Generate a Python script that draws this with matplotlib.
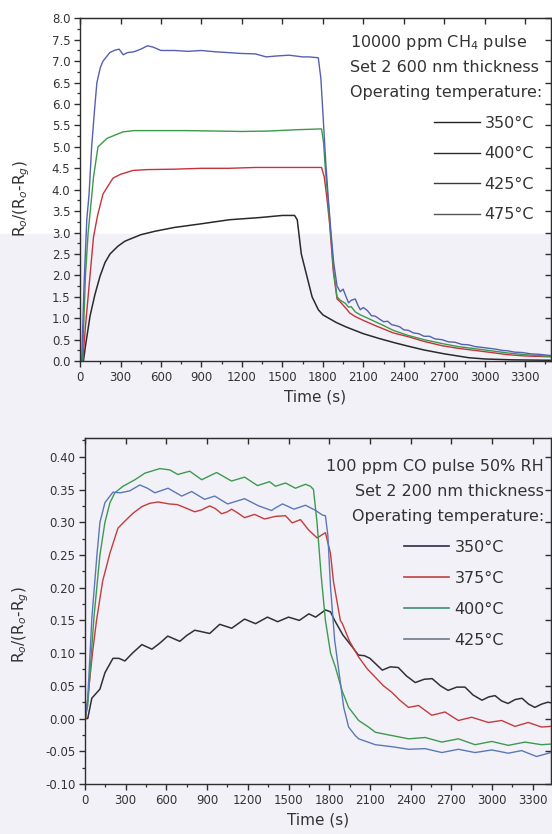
import matplotlib
matplotlib.use('Agg')
from matplotlib import pyplot as plt
from matplotlib.lines import Line2D
from matplotlib.patches import Rectangle
from matplotlib.ticker import MultipleLocator, FormatStrFormatter

plt.rcParams['font.family'] = ['DejaVu Sans']
plt.rcParams['mathtext.fontset'] = 'dejavusans'

# ---- 10000 ppm CH4, 600 nm film ----
ch4_t_350 = [25, 40, 74, 110, 148, 185, 222, 280, 333, 450, 554, 700, 887, 1108, 1330, 1500, 1590,
             1610, 1640, 1680, 1720, 1766, 1800, 1900, 1970, 2100, 2215, 2330, 2430, 2550, 2700,
             2880, 3000, 3200, 3490]
ch4_r_350 = [0.0, 0.35, 1.05, 1.55, 1.98, 2.3, 2.5, 2.68, 2.8, 2.95, 3.03, 3.12, 3.2, 3.3, 3.35, 3.4, 3.4,
             3.3, 2.5, 2.0, 1.5, 1.2, 1.08, 0.9, 0.8, 0.64, 0.53, 0.43, 0.35, 0.26, 0.17,
             0.08, 0.05, 0.03, 0.02]

ch4_t_400 = [20, 40, 74, 100, 130, 170, 210, 244, 300, 392, 500, 700, 900, 1100, 1300, 1500, 1700, 1790,
             1810, 1830, 1850, 1877, 1905, 1929, 1966, 2000, 2040, 2100, 2188, 2250, 2320, 2432, 2550,
             2683, 2800, 2927, 3050, 3171, 3300, 3488]
ch4_r_400 = [0.0, 0.8, 2.0, 2.9, 3.4, 3.9, 4.1, 4.27, 4.36, 4.45, 4.47, 4.48, 4.5, 4.5, 4.52, 4.52, 4.52, 4.52,
             4.3, 3.8, 3.2, 2.1, 1.45, 1.38, 1.25, 1.12, 1.04, 0.95, 0.83, 0.75, 0.66, 0.57, 0.46,
             0.36, 0.3, 0.25, 0.2, 0.15, 0.12, 0.1]

ch4_t_425 = [18, 40, 60, 85, 100, 133, 200, 318, 400, 600, 800, 1000, 1200, 1400, 1600, 1790,
             1805, 1820, 1840, 1860, 1880, 1905, 1929, 1966, 1990, 2010, 2040, 2077, 2120, 2188, 2250,
             2320, 2432, 2550, 2683, 2800, 2927, 3050, 3171, 3300, 3488]
ch4_r_425 = [0.0, 2.0, 3.0, 3.8, 4.3, 5.0, 5.2, 5.35, 5.38, 5.38, 5.38, 5.37, 5.36, 5.37, 5.4, 5.42,
             5.1, 4.4, 3.7, 2.9, 2.1, 1.5, 1.42, 1.35, 1.26, 1.27, 1.15, 1.08, 1.02, 0.92, 0.83,
             0.72, 0.6, 0.5, 0.41, 0.34, 0.29, 0.24, 0.19, 0.15, 0.11]

ch4_t_475 = [12, 30, 50, 67, 86, 111, 125, 150, 170, 220, 260, 290, 320, 350, 400, 450, 500, 540, 600, 700,
             800, 900, 1000, 1100, 1200, 1300, 1380, 1450, 1550, 1650, 1700, 1766,
             1785, 1800, 1820, 1840, 1860, 1880, 1905, 1929, 1950, 1966, 1990, 2010, 2040, 2060, 2077,
             2100, 2130, 2160, 2188, 2220, 2250, 2280, 2310, 2340, 2370, 2400, 2432, 2470, 2510, 2550,
             2590, 2630, 2683, 2730, 2780, 2830, 2880, 2927, 2980, 3030, 3080, 3130, 3171, 3220, 3280,
             3340, 3400, 3488]
ch4_r_475 = [0.0, 1.8, 3.3, 3.9, 5.0, 6.0, 6.5, 6.85, 7.0, 7.2, 7.26, 7.28, 7.15, 7.2, 7.22, 7.28, 7.36, 7.33, 7.25, 7.25,
             7.23, 7.25, 7.22, 7.2, 7.18, 7.17, 7.1, 7.12, 7.14, 7.1, 7.1, 7.08,
             6.6, 5.8, 4.7, 3.8, 3.0, 2.3, 1.75, 1.62, 1.68, 1.55, 1.36, 1.42, 1.45, 1.3, 1.2,
             1.25, 1.18, 1.06, 1.05, 0.98, 0.92, 0.93, 0.85, 0.83, 0.8, 0.73, 0.72, 0.66, 0.64, 0.58,
             0.58, 0.52, 0.5, 0.45, 0.44, 0.39, 0.38, 0.34, 0.32, 0.3, 0.28, 0.25, 0.24, 0.21, 0.2,
             0.17, 0.16, 0.13]

# ---- 100 ppm CO, 50% RH, 200 nm film ----
co_t_350 = [0, 20, 50, 110, 147, 206, 250, 294, 350, 419, 493, 550, 610, 699, 750, 809, 919, 993, 1081,
            1176, 1257, 1345, 1420, 1500, 1580, 1650, 1700, 1772, 1810, 1840, 1900, 1968, 2015, 2060,
            2100, 2191, 2250, 2309, 2370, 2434, 2500, 2559, 2620, 2676, 2740, 2801, 2860, 2926, 2975,
            3022, 3070, 3118, 3170, 3221, 3270, 3316, 3365, 3412, 3434]
co_r_350 = [0.0, 0.0, 0.031, 0.045, 0.07, 0.092, 0.092, 0.088, 0.1, 0.113, 0.106, 0.115, 0.126, 0.118, 0.127,
            0.135, 0.13, 0.144, 0.138, 0.152, 0.145, 0.155, 0.148, 0.155, 0.15, 0.16, 0.155, 0.166, 0.163,
            0.15, 0.128, 0.11, 0.097, 0.096, 0.092, 0.074, 0.079, 0.078, 0.065, 0.055, 0.06, 0.061, 0.05,
            0.043, 0.048, 0.048, 0.036, 0.028, 0.033, 0.035, 0.027, 0.023, 0.029, 0.031, 0.022, 0.017,
            0.022, 0.025, 0.024]

co_t_375 = [5, 30, 55, 85, 130, 184, 243, 300, 355, 420, 478, 540, 620, 680, 740, 809, 860, 919, 960, 1007,
            1050, 1080, 1120, 1176, 1250, 1323, 1404, 1478, 1527, 1588, 1649, 1711, 1748, 1772, 1809,
            1831, 1882, 1897, 1950, 2017, 2080, 2140, 2200, 2262, 2320, 2385, 2458, 2556, 2654, 2752,
            2850, 2973, 3071, 3169, 3267, 3365, 3434]
co_r_375 = [0.0, 0.05, 0.1, 0.15, 0.21, 0.253, 0.291, 0.303, 0.314, 0.324, 0.329, 0.331, 0.328, 0.327, 0.322,
            0.316, 0.319, 0.325, 0.321, 0.313, 0.316, 0.32, 0.315, 0.307, 0.312, 0.305, 0.309, 0.31, 0.299,
            0.304, 0.288, 0.276, 0.281, 0.284, 0.253, 0.21, 0.15, 0.145, 0.118, 0.094, 0.076, 0.063,
            0.05, 0.04, 0.028, 0.017, 0.02, 0.005, 0.01, -0.003, 0.002, -0.006, -0.003, -0.012, -0.006,
            -0.013, -0.012]

co_t_400 = [0, 20, 66, 110, 147, 184, 220, 280, 368, 441, 551, 625, 684, 772, 860, 970, 1080, 1176, 1272,
            1360, 1404, 1478, 1551, 1625, 1662, 1684, 1710, 1740, 1772, 1810, 1845, 1894, 1943, 2017,
            2090, 2140, 2262, 2385, 2507, 2630, 2752, 2875, 2998, 3120, 3243, 3365, 3434]
co_r_400 = [0.0, 0.02, 0.155, 0.25, 0.3, 0.33, 0.345, 0.355, 0.365, 0.375, 0.382, 0.38, 0.373, 0.378, 0.365,
            0.376, 0.363, 0.369, 0.356, 0.362, 0.355, 0.36, 0.352, 0.358, 0.355, 0.35, 0.3, 0.22, 0.15,
            0.1, 0.079, 0.043, 0.017, -0.003, -0.013, -0.021, -0.026, -0.031, -0.029, -0.036, -0.031,
            -0.04, -0.035, -0.041, -0.036, -0.04, -0.039]

co_t_425 = [0, 20, 51, 88, 110, 147, 206, 260, 330, 404, 460, 515, 612, 713, 786, 882, 956, 1051, 1176,
            1280, 1375, 1404, 1456, 1540, 1625, 1700, 1750, 1772, 1790, 1810, 1840, 1870, 1907, 1943,
            1992, 2017, 2140, 2262, 2385, 2507, 2630, 2752, 2875, 2998, 3120, 3218, 3328, 3434]
co_r_425 = [0.0, 0.03, 0.155, 0.25, 0.3, 0.33, 0.346, 0.345, 0.348, 0.357, 0.352, 0.345, 0.352, 0.34, 0.347,
            0.335, 0.34, 0.328, 0.336, 0.325, 0.318, 0.322, 0.328, 0.32, 0.326, 0.318, 0.311, 0.31, 0.28,
            0.2, 0.12, 0.074, 0.017, -0.013, -0.026, -0.031, -0.04, -0.043, -0.047, -0.046, -0.052,
            -0.047, -0.052, -0.048, -0.053, -0.049, -0.058, -0.052]

ch4_labels = ['350°C', '400°C', '425°C', '475°C']
co_labels = ['350°C', '375°C', '400°C', '425°C']
time_ticks = list(range(0, 3301, 300))

ch4_text = ['10000 ppm CH$_4$ pulse', 'Set 2 600 nm thickness', 'Operating temperature:']
co_text = ['100 ppm CO pulse 50% RH', 'Set 2 200 nm thickness', 'Operating temperature:']

ink = '#2e2e2e'
fig = plt.figure(figsize=(5.52, 8.34), dpi=100)
# faint lavender tint of the lower part of the sheet
fig.patches.append(Rectangle((0, 0), 1, 0.72, transform=fig.transFigure,
                             color='#f3f1f8', zorder=-10))


def style_axes(ax, ymajor, yminor):
    ax.set_facecolor('none')
    for s in ax.spines.values():
        s.set_color(ink)
        s.set_linewidth(1.0)
    ax.xaxis.set_minor_locator(MultipleLocator(150))
    ax.yaxis.set_major_locator(MultipleLocator(ymajor))
    ax.yaxis.set_minor_locator(MultipleLocator(yminor))
    ax.set_xticks(time_ticks)
    ax.tick_params(which='major', direction='out', length=4.5, width=1.0, color=ink,
                   labelsize=8.5, labelcolor='#333333', pad=2.5)
    ax.tick_params(which='minor', direction='out', length=2.5, width=0.9, color=ink)
    # inward ticks on the top and right frame
    top = ax.secondary_xaxis('top')
    top.set_xticks(time_ticks)
    top.tick_params(direction='in', length=4.5, width=1.0, color=ink, labeltop=False)
    top.spines['top'].set_color(ink)
    right = ax.secondary_yaxis('right')
    right.yaxis.set_major_locator(MultipleLocator(ymajor))
    right.tick_params(direction='in', length=4.5, width=1.0, color=ink, labelright=False)
    right.spines['right'].set_color(ink)
    ax.set_xlabel('Time (s)', fontsize=11, color='#333333', labelpad=4)
    ax.set_ylabel('R$_o$/(R$_o$-R$_g$)', fontsize=11, color='#333333')


# top panel
ax1 = fig.add_axes([0.145, 0.567, 0.853, 0.411])
ax1.plot(ch4_t_350, ch4_r_350, color='#2a2a2a', lw=1.1)
ax1.plot(ch4_t_400, ch4_r_400, color='#c8323c', lw=1.0)
ax1.plot(ch4_t_425, ch4_r_425, color='#3a9a4a', lw=1.0)
ax1.plot(ch4_t_475, ch4_r_475, color='#5560b0', lw=1.0)
ax1.set_xlim(0, 3490)
ax1.set_ylim(0, 8.0)
style_axes(ax1, 0.5, 0.25)
ax1.yaxis.set_major_formatter(FormatStrFormatter('%.1f'))
ax1.yaxis.set_label_coords(-0.102, 0.475)

for i, s in enumerate(ch4_text):
    fig.text(350 / 552, 1 - (42 + 25 * i) / 834, s, fontsize=11.5, color='#333333',
             ha='left', va='center')
ch4_handles = [Line2D([], [], color=c, lw=1.0) for c in ['#222222', '#2a2a2a', '#3a3a3a', '#555555']]
ax1.legend(ch4_handles, ch4_labels, loc='upper left', bbox_to_anchor=(434 / 552, 1 - 116 / 834),
           bbox_transform=fig.transFigure, frameon=False, fontsize=11.5, borderpad=0,
           borderaxespad=0, handlelength=2.9, handletextpad=0.25, labelspacing=0.97,
           labelcolor='#333333')

# bottom panel
ax2 = fig.add_axes([0.154, 0.060, 0.844, 0.415])
ax2.plot(co_t_350, co_r_350, color='#303038', lw=1.1)
ax2.plot(co_t_375, co_r_375, color='#c43c3c', lw=1.0)
ax2.plot(co_t_400, co_r_400, color='#3c9a50', lw=1.0)
ax2.plot(co_t_425, co_r_425, color='#5a78b8', lw=1.0)
ax2.set_xlim(0, 3434)
ax2.set_ylim(-0.10, 0.429)
style_axes(ax2, 0.05, 0.025)
ax2.yaxis.set_major_formatter(FormatStrFormatter('%.2f'))
ax2.yaxis.set_label_coords(-0.115, 0.46)

co_rows = [467, 491, 517]
for y, s in zip(co_rows, co_text):
    fig.text(544 / 552, 1 - y / 834, s, fontsize=11.5, color='#333333', ha='right', va='center')
co_handles = [Line2D([], [], color=c, lw=1.2) for c in ['#2b2b48', '#c04040', '#3f8a78', '#707888']]
ax2.legend(co_handles, co_labels, loc='upper left', bbox_to_anchor=(404 / 552, 1 - 540 / 834),
           bbox_transform=fig.transFigure, frameon=False, fontsize=11.5, borderpad=0,
           borderaxespad=0, handlelength=2.8, handletextpad=0.35, labelspacing=1.0,
           labelcolor='#333333')

fig.savefig('out.png', dpi=100, facecolor='white')
